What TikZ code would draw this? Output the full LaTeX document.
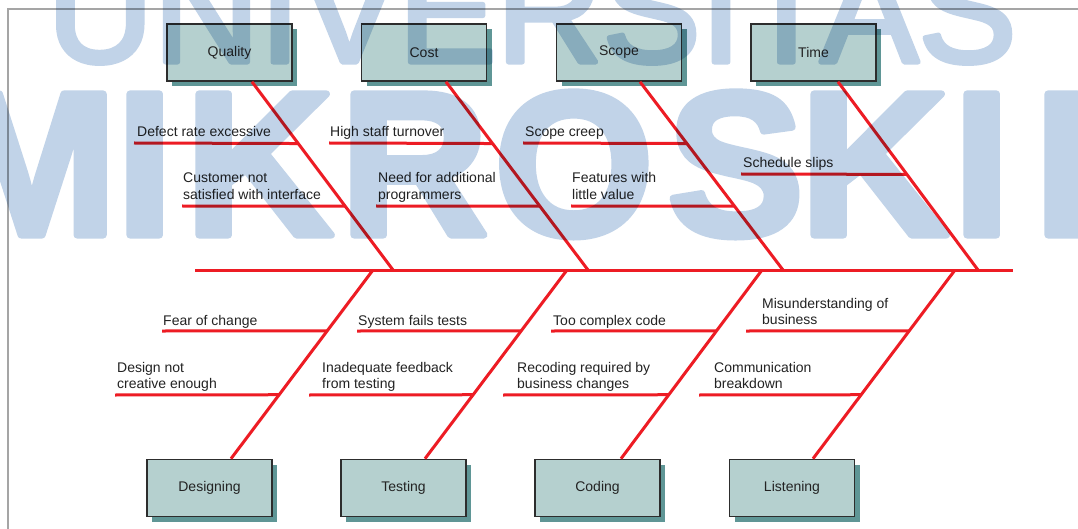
\documentclass[tikz,border=0pt]{standalone}
\usepackage{fontspec}
\setmainfont{Liberation Sans}
\usetikzlibrary{calc,shadows}

\definecolor{fbred}{RGB}{237,28,36}
\definecolor{boxfill}{RGB}{181,208,207}
\definecolor{boxline}{RGB}{45,45,45}
\definecolor{boxshadow}{RGB}{95,150,150}
\definecolor{txt}{RGB}{35,35,35}
\definecolor{framegray}{RGB}{165,165,165}
\definecolor{wmblue}{RGB}{193,211,232}

% glyphs filled and stroked, so the outline width thickens the strokes
\newcommand\heavyglyphs[2]{\special{pdf:literal direct #1 w 1 j 2 Tr}#2\special{pdf:literal direct 0 Tr}}

\begin{document}
\begin{tikzpicture}[x=1pt,y=-1pt,
  bone/.style={draw=fbred,line width=3pt},
  causebox/.style={draw=boxline,line width=1.6pt,fill=boxfill,
    minimum width=125pt,minimum height=57pt,inner sep=0pt,text=txt,
    font=\fontsize{14}{16.5}\selectfont,
    drop shadow={shadow xshift=5pt,shadow yshift=-5pt,fill=boxshadow,opacity=1}},
  cause/.style={anchor=base west,inner sep=0pt,text=txt,align=left,
    font=\fontsize{14}{16.5}\selectfont},
  wm/.style={anchor=base west,inner sep=0pt,text=wmblue}]

\useasboundingbox (0,0) rectangle (1078,529);
\clip (0,0) rectangle (1078,529);
\fill[white] (0,0) rectangle (1078,529);

% thin page frame
\draw[framegray,line width=1.5pt] (1080,9) -- (8,9) -- (8,531);

% category boxes
\node[causebox] (quality)   at (229.5,52.5) {Quality};
\node[causebox] (cost)      at (424,52.5)   {Cost};
\node[causebox] (scope)     at (619,52.5)   {Scope};
\node[causebox] (time)      at (813.5,52.5) {Time};
\node[causebox] (designing) at (209.5,488)  {Designing};
\node[causebox] (testing)   at (403.5,488)  {Testing};
\node[causebox] (coding)    at (597.5,488)  {Coding};
\node[causebox] (listening) at (792,488)    {Listening};

% spine
\coordinate (spL) at (195,270);
\coordinate (spR) at (1013,270);
\draw[bone] (spL) -- (spR);

% bones from the upper boxes
\coordinate (qa) at ([xshift=22.5pt]quality.south);
\coordinate (ca) at ([xshift=22pt]cost.south);
\coordinate (sa) at ([xshift=21pt]scope.south);
\coordinate (ta) at ([xshift=24.5pt]time.south);
\coordinate (qs) at (393,270);
\coordinate (cs) at (588,270);
\coordinate (ss) at (783,270);
\coordinate (ts) at (978,270);
\draw[bone] (qa) -- (qs);
\draw[bone] (ca) -- (cs);
\draw[bone] (sa) -- (ss);
\draw[bone] (ta) -- (ts);

% bones from the lower boxes
\coordinate (da) at ([xshift=21.5pt]designing.north);
\coordinate (ea) at ([xshift=21.5pt]testing.north);
\coordinate (ga) at ([xshift=23.5pt]coding.north);
\coordinate (la) at ([xshift=21pt]listening.north);
\coordinate (ds) at (373,270);
\coordinate (es) at (567,270);
\coordinate (gs) at (762,270);
\coordinate (ls) at (955,270);
\draw[bone] (da) -- (ds);
\draw[bone] (ea) -- (es);
\draw[bone] (ga) -- (gs);
\draw[bone] (la) -- (ls);

% cause lines, upper half
\coordinate (q1) at (134,143);
\coordinate (q2) at (182,206);
\coordinate (c1) at (329,143);
\coordinate (c2) at (376,206);
\coordinate (s1) at (523,143);
\coordinate (s2) at (571,206);
\coordinate (t1) at (741,174);
\draw[bone] (q1) -- ($(qa)!0.328!(qs)$);
\draw[bone] (q2) -- ($(qa)!0.661!(qs)$);
\draw[bone] (c1) -- ($(ca)!0.328!(cs)$);
\draw[bone] (c2) -- ($(ca)!0.661!(cs)$);
\draw[bone] (s1) -- ($(sa)!0.328!(ss)$);
\draw[bone] (s2) -- ($(sa)!0.661!(ss)$);
\draw[bone] (t1) -- ($(ta)!0.492!(ts)$);

% cause lines, lower half
\coordinate (d1) at (162,331);
\coordinate (d2) at (115,395);
\coordinate (e1) at (357,331);
\coordinate (e2) at (309,395);
\coordinate (g1) at (551,331);
\coordinate (g2) at (503,395);
\coordinate (l1) at (746,331);
\coordinate (l2) at (699,395);
\draw[bone] (d1) -- ($(da)!0.677!(ds)$);
\draw[bone] (d2) -- ($(da)!0.339!(ds)$);
\draw[bone] (e1) -- ($(ea)!0.677!(es)$);
\draw[bone] (e2) -- ($(ea)!0.339!(es)$);
\draw[bone] (g1) -- ($(ga)!0.677!(gs)$);
\draw[bone] (g2) -- ($(ga)!0.339!(gs)$);
\draw[bone] (l1) -- ($(la)!0.677!(ls)$);
\draw[bone] (l2) -- ($(la)!0.339!(ls)$);

% cause labels (multi-line labels sit on the baseline of their last line)
\node[cause] (tq1) at (137,137)   {Defect rate excessive};
\node[cause] (tq2) at (183,199.5) {Customer not\\satisfied with interface};
\node[cause] (tc1) at (330,137)   {High staff turnover};
\node[cause] (tc2) at (378,199.5) {Need for additional\\programmers};
\node[cause] (ts1) at (525,137)   {Scope creep};
\node[cause] (ts2) at (572,199.5) {Features with\\little value};
\node[cause] (tt1) at (743,168)   {Schedule slips};
\node[cause] (td1) at (163,325)   {Fear of change};
\node[cause] (td2) at (117,388.5) {Design not\\creative enough};
\node[cause] (te1) at (358,325)   {System fails tests};
\node[cause] (te2) at (322,388.5) {Inadequate feedback\\from testing};
\node[cause] (tg1) at (553,325)   {Too complex code};
\node[cause] (tg2) at (517,388.5) {Recoding required by\\business changes};
\node[cause] (tl1) at (762,324.5) {Misunderstanding of\\business};
\node[cause] (tl2) at (714,388.5) {Communication\\breakdown};

% watermark lettering laid over the diagram
\begin{scope}[transparency group,blend mode=multiply]
  \node[wm,font=\fontsize{147}{150}\selectfont] (univ) at (47,62)
    {\heavyglyphs{5}{UNIVERSITAS}};
  \foreach \ch/\xx [count=\i] in {M/-54,I/116,K/185,R/340,O/494,S/667,K/800,I/953,L/1034}
    \node[wm,font=\fontsize{205}{210}\selectfont\bfseries] (mk\i) at (\xx,235)
      {\heavyglyphs{7}{\ch}};
\end{scope}
\end{tikzpicture}
\end{document}
